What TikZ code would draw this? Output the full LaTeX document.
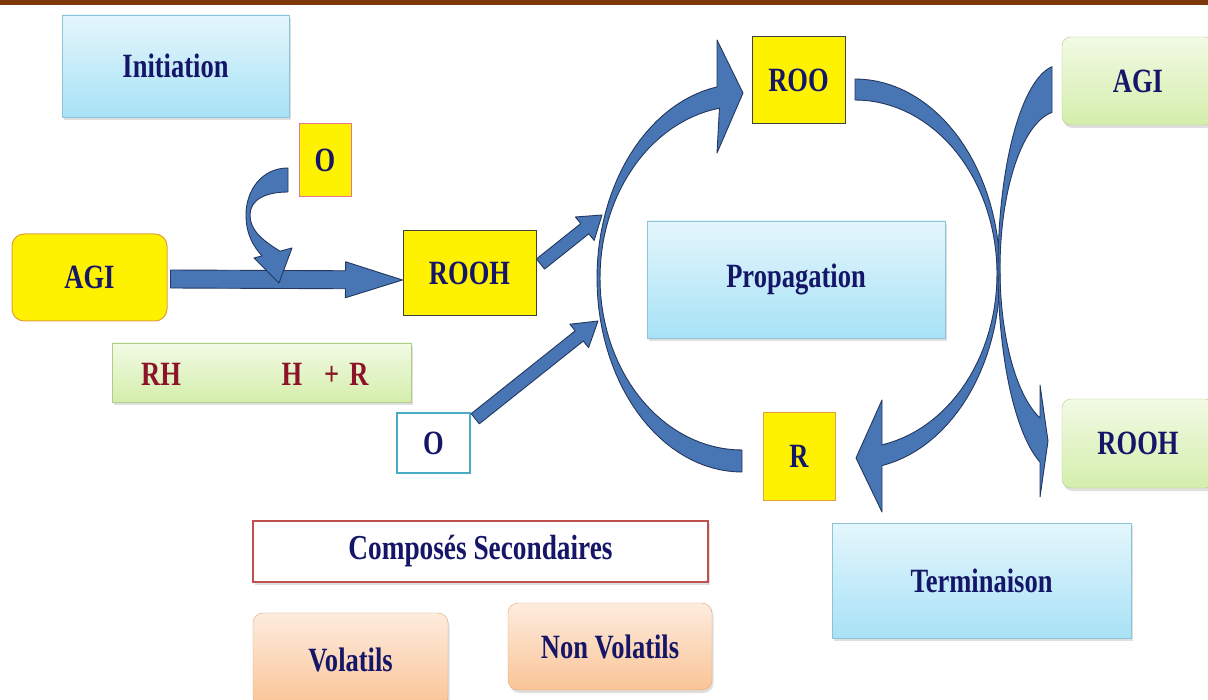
\documentclass[tikz,border=0pt]{standalone}
\usepackage{fontspec}
\usepackage{tikz}
\usetikzlibrary{calc, shadows}
\newfontfamily\schemafont{Liberation Serif}[FakeStretch=0.78]
\definecolor{schemanavy}{RGB}{22, 22, 105}
\definecolor{schemared}{RGB}{140, 20, 40}
\definecolor{schemabrown}{RGB}{125, 55, 10}
\definecolor{arrowblue}{RGB}{72, 118, 180}
\definecolor{arrowedge}{RGB}{35, 55, 95}
\definecolor{skytop}{RGB}{228, 246, 252}
\definecolor{skybottom}{RGB}{168, 226, 246}
\definecolor{skyedge}{RGB}{140, 195, 215}
\definecolor{limetop}{RGB}{242, 250, 228}
\definecolor{limebottom}{RGB}{212, 238, 172}
\definecolor{limeedge}{RGB}{175, 205, 135}
\definecolor{peachtop}{RGB}{253, 236, 222}
\definecolor{peachbottom}{RGB}{250, 196, 150}
\definecolor{peachedge}{RGB}{225, 165, 120}
\definecolor{pinkedge}{RGB}{230, 120, 150}
\definecolor{tealedge}{RGB}{75, 172, 198}
\definecolor{brickedge}{RGB}{192, 80, 77}
\definecolor{amberedge}{RGB}{225, 160, 60}

% freccia piena: da, a, mezza asta, mezza punta, lunghezza punta
\newcommand{\blockarrow}[5]{%
  \coordinate (ba-s) at (#1);
  \coordinate (ba-e) at (#2);
  \coordinate (ba-h) at ($(ba-e)!#5!(ba-s)$);
  \filldraw[bigarrow] ($(ba-s)!#3!90:(ba-e)$) -- ($(ba-h)!#3!90:(ba-e)$) -- ($(ba-h)!#4!90:(ba-e)$)
    -- (ba-e) -- ($(ba-h)!#4!-90:(ba-e)$) -- ($(ba-h)!#3!-90:(ba-e)$) -- ($(ba-s)!#3!-90:(ba-e)$) -- cycle;
}

\begin{document}
\begin{tikzpicture}[x=1pt, y=-1pt,
    lbl/.style={font=\schemafont\bfseries\fontsize{34}{40}\selectfont, text=schemanavy, inner sep=0pt},
    soft/.style={drop shadow={opacity=0.25, shadow xshift=1.5pt, shadow yshift=-3pt}},
    skybox/.style={lbl, soft, rectangle, draw=skyedge, top color=skytop, bottom color=skybottom},
    limebox/.style={lbl, soft, rectangle, draw=limeedge, top color=limetop, bottom color=limebottom},
    peachbox/.style={lbl, soft, rectangle, rounded corners=10pt, draw=peachedge, top color=peachtop, bottom color=peachbottom},
    yellowbox/.style={lbl, rectangle, fill=yellow, draw=black!75, line width=1pt},
    bigarrow/.style={fill=arrowblue, draw=arrowedge, line width=0.9pt, line join=round}]
  \useasboundingbox (0,0) rectangle (1208,700);
  \clip (0,0) rectangle (1208,700);
  \fill[schemabrown] (0,0) rectangle (1208,5);

  % Initiation
  \node[skybox, minimum width=227pt, minimum height=102pt] (init) at (175.5,66) {Initiation};
  \node[yellowbox, draw=pinkedge, minimum width=52pt, minimum height=73pt] (otop) at (325,160.5) {O};
  \node[yellowbox, draw=amberedge, rounded corners=12pt, minimum width=155pt, minimum height=87pt] (agil) at (89.5,277.5) {AGI};
  \node[yellowbox, minimum width=133pt, minimum height=85pt] (rooh) at (469.5,273.5) {ROOH};
  \node[limebox, minimum width=299pt, minimum height=59pt] (rhbox) at (261.5,372.5) {};
  \node[lbl, text=schemared] (rh) at (161,374) {RH};
  \node[lbl, text=schemared] (hr) at (325,374) {H\hspace{22pt}+\hspace{10pt}R};
  \node[lbl, rectangle, fill=white, draw=tealedge, line width=2.5pt, minimum width=73pt, minimum height=60pt] (obot) at (433.5,443) {O};

  % Propagation
  \node[skybox, minimum width=298pt, minimum height=117pt] (prop) at (796,279.5) {Propagation};
  \node[yellowbox, minimum width=93pt, minimum height=87pt] (roo) at (798.5,80.5) {ROO};
  \node[yellowbox, draw=amberedge, minimum width=72pt, minimum height=87pt] (r) at (799,456.5) {R};

  % Terminaison
  \node[limebox, rounded corners=9pt, minimum width=152pt, minimum height=88pt] (agir) at (1138,81) {AGI};
  \node[limebox, rounded corners=9pt, minimum width=152pt, minimum height=89pt] (roohr) at (1138,443.5) {ROOH};
  \node[skybox, minimum width=299pt, minimum height=115pt] (term) at (981.5,580.5) {Terminaison};

  % Composes secondaires
  \node[lbl, soft, rectangle, fill=white, draw=brickedge, line width=2.5pt, minimum width=455pt, minimum height=61pt,
    font=\schemafont\bfseries\fontsize{35}{40}\selectfont] (comp) at (480.5,551.5) {Composés Secondaires};
  \node[peachbox, minimum width=195pt, minimum height=94pt] (vol) at (350.5,660) {Volatils};
  \node[peachbox, minimum width=204pt, minimum height=87pt] (nvol) at (610,646.5) {Non Volatils};

  % frecce dritte
  \coordinate (arcin1) at (602,215);
  \coordinate (arcin2) at (598,321);
  \blockarrow{$(agil.east)+(3,1.5)$}{$(rooh.west)+(0,6.5)$}{9pt}{18pt}{57pt}
  \blockarrow{$(rooh.east)+(4,-9.5)$}{arcin1}{6.5pt}{15pt}{22pt}
  \blockarrow{$(obot.north east)+(4,7)$}{arcin2}{6.5pt}{15pt}{24pt}

  % O entra nella freccia
  \filldraw[bigarrow] (288,168) .. controls (262,168) and (246,190) .. (246,215)
    .. controls (246,235) and (254,247) .. (262,255.9) -- (254,258) -- (279,283) -- (292,248) -- (280,251.2)
    .. controls (262,240) and (250,230) .. (250,215) .. controls (250,200) and (265,192) .. (288,192) -- cycle;

  % arco sinistro verso ROO
  \filldraw[bigarrow] plot[domain=90:260.07, samples=60] ({742+145*cos(\x)}, {278+194*sin(\x)})
    -- (717,40) -- (743,93) -- (717,153)
    -- plot[domain=260.86:90, samples=60] ({742+142*cos(\x)}, {278+172*sin(\x)}) -- cycle;
  % arco destro verso R
  \filldraw[bigarrow] plot[domain=-90:79.27, samples=60] ({855+145*cos(\x)}, {274+195*sin(\x)})
    -- (882,512) -- (856,458) -- (882,400)
    -- plot[domain=79.04:-90, samples=60] ({855+142*cos(\x)}, {274+174*sin(\x)}) -- cycle;
  % da AGI verso ROOH
  \filldraw[bigarrow] plot[domain=262.59:108.82, samples=60] ({1060+62*cos(\x)}, {269+204*sin(\x)})
    -- (1040,497) -- (1048,441) -- (1040,385)
    -- plot[domain=109.47:262.34, samples=60] ({1060+60*cos(\x)}, {269+158*sin(\x)}) -- cycle;
\end{tikzpicture}
\end{document}
